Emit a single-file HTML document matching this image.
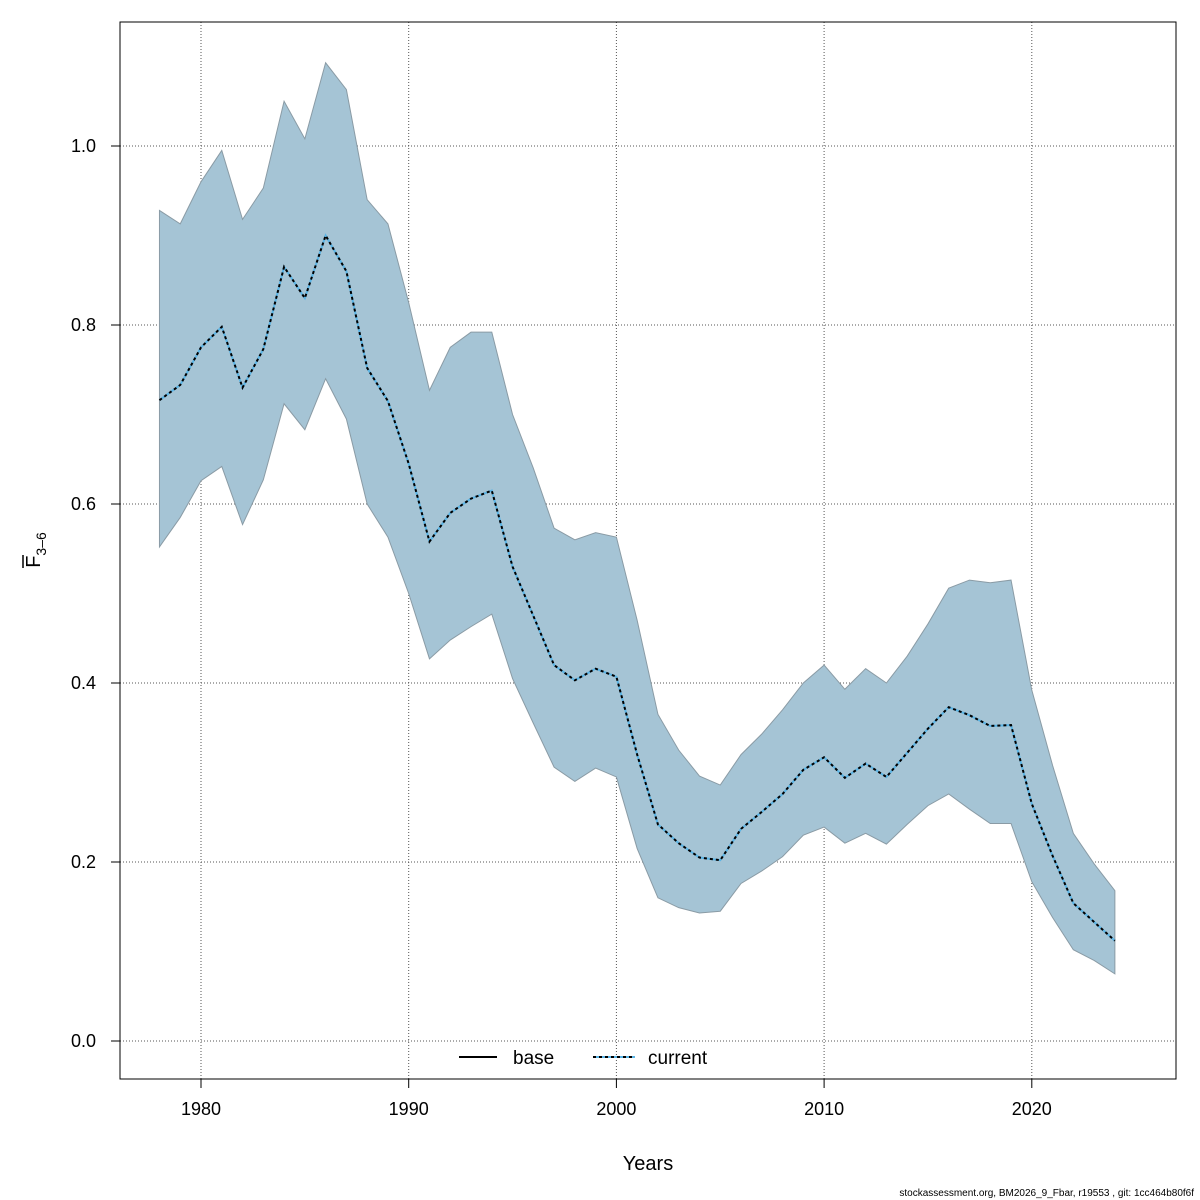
<!DOCTYPE html>
<html><head><meta charset="utf-8"><style>
body{margin:0;background:#fff;}
svg{display:block;font-family:"Liberation Sans",sans-serif;}
</style></head><body>
<svg id="chart" width="1200" height="1200">
<rect x="0" y="0" width="1200" height="1200" fill="#fff"/>
<g id="grid"></g>
<g id="band"></g>
<g id="lines"></g>
<rect x="120" y="22" width="1056" height="1057" fill="none" stroke="#000" stroke-width="1"/>
<g id="axes"></g>
<text x="648" y="1170" font-size="20" text-anchor="middle">Years</text>
<g transform="translate(40,550) rotate(-90)">
<text x="0" y="0" font-size="20" text-anchor="middle">F<tspan font-size="14" dy="6">3–6</tspan></text>
<line x1="-18" y1="-17" x2="-5" y2="-17" stroke="#000" stroke-width="1.5"/>
</g>
<g>
<g>
<line x1="459" y1="1057" x2="497" y2="1057" stroke="#000" stroke-width="2"/>
<text x="513" y="1064" font-size="19">base</text></g>
<g>
<line x1="593" y1="1057" x2="635" y2="1057" stroke="#5ab4e5" stroke-width="2"/>
<line x1="593" y1="1057" x2="635" y2="1057" stroke="#000" stroke-width="2" stroke-dasharray="3,3"/>
<text x="648" y="1064" font-size="19">current</text></g>
</g>
<text x="1194" y="1196" font-size="10" text-anchor="end">stockassessment.org, BM2026_9_Fbar, r19553 , git: 1cc464b80f6f</text>
</svg>
<script>
const years=[];for(let y=1978;y<=2024;y++)years.push(y);
const upper=[.928,.913,.96,.995,.918,.953,1.05,1.008,1.093,1.063,.94,.913,.825,.727,.775,.792,.792,.70,.64,.573,.56,.568,.563,.47,.365,.325,.296,.286,.32,.343,.37,.40,.42,.393,.416,.40,.43,.466,.506,.515,.512,.515,.392,.308,.232,.198,.168];
const lower=[.552,.585,.626,.642,.577,.627,.712,.683,.74,.695,.60,.563,.50,.427,.448,.463,.477,.405,.355,.306,.29,.305,.295,.215,.16,.149,.143,.145,.176,.19,.206,.23,.239,.221,.232,.22,.242,.263,.276,.259,.243,.243,.178,.138,.102,.09,.075];
const fbar=[.716,.733,.775,.798,.73,.773,.865,.83,.90,.86,.752,.715,.645,.558,.59,.606,.615,.53,.475,.42,.403,.416,.407,.32,.242,.221,.205,.202,.237,.256,.276,.303,.317,.294,.31,.295,.322,.349,.373,.364,.352,.353,.265,.207,.154,.133,.112];
const xTicks=[1980,1990,2000,2010,2020];
const yTicks=[0,0.2,0.4,0.6,0.8,1.0];
const X=y=>201+(y-1980)*20.77;
const Y=v=>1041-v*895;
const NS="http://www.w3.org/2000/svg";
function mk(tag,attrs,parent){const e=document.createElementNS(NS,tag);for(const k in attrs)e.setAttribute(k,attrs[k]);parent.appendChild(e);return e;}
const grid=document.getElementById('grid'),axes=document.getElementById('axes');
xTicks.forEach(t=>{
 const g=mk('line',{x1:X(t),x2:X(t),y1:22,y2:1079,stroke:'#555','stroke-dasharray':'1,2'},grid);
 
 
 const tk=mk('line',{x1:X(t),x2:X(t),y1:1079,y2:1088,stroke:'#000'},axes);
 
 
 const tx=mk('text',{x:X(t),y:1115,'font-size':18,'text-anchor':'middle'},axes);tx.textContent=t;
 
 
});
yTicks.forEach(t=>{
 const g=mk('line',{x1:120,x2:1176,y1:Y(t),y2:Y(t),stroke:'#555','stroke-dasharray':'1,2'},grid);
 
 
 const tk=mk('line',{x1:111,x2:120,y1:Y(t),y2:Y(t),stroke:'#000'},axes);
 
 
 const tx=mk('text',{x:96,y:Y(t)+6,'font-size':18,'text-anchor':'end'},axes);tx.textContent=t.toFixed(1);
 
 
});
let pts=years.map((y,i)=>X(y)+','+Y(upper[i]));
for(let i=years.length-1;i>=0;i--)pts.push(X(years[i])+','+Y(lower[i]));
const poly=mk('polygon',{points:pts.join(' '),fill:'#a5c4d5',stroke:'#8a9ba5','stroke-width':1},document.getElementById('band'));


const lp=years.map((y,i)=>X(y)+','+Y(fbar[i])).join(' ');
const lg=document.getElementById('lines');
const l1=mk('polyline',{points:lp,fill:'none',stroke:'#5ab4e5','stroke-width':2},lg);


const l2=mk('polyline',{points:lp,fill:'none',stroke:'#000','stroke-width':2,'stroke-dasharray':'3,3'},lg);


</script>
</body></html>
